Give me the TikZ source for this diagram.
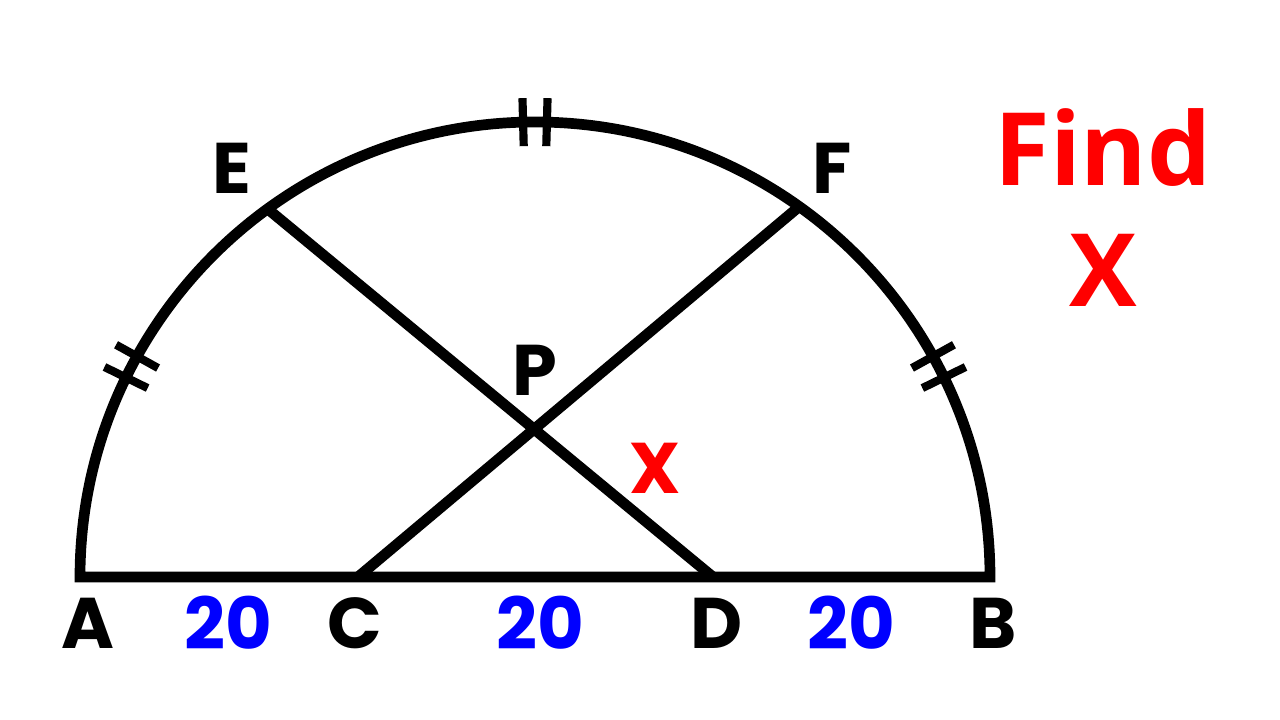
\documentclass[tikz,border=0pt]{standalone}
\usetikzlibrary{calc}
\usepackage{fontspec}
\newfontfamily\lblfont{Poppins}
\newfontfamily\findfont{Open Sans}

\begin{document}
\begin{tikzpicture}[x=0.025cm,y=0.025cm,line width=7.6pt,
	lbl/.style={font=\lblfont\bfseries\fontsize{51}{51}\selectfont,inner sep=0pt},
	seglbl/.style={lbl,text=blue},
	findlbl/.style={font=\findfont\bfseries\fontsize{72}{72}\selectfont,inner sep=0pt,text=red},
	tickmark/.style={line width=5.8pt}]
	\useasboundingbox (0,0) rectangle (1280,720);
	\coordinate (O) at (535,143);
	\coordinate (A) at (80,143);
	\coordinate (B) at (990,143);
	\coordinate (C) at (358,143);
	\coordinate (D) at (713,143);
	\coordinate (E) at ($(O)+(126:455)$);
	\coordinate (F) at ($(O)+(54.5:455)$);
	\coordinate (P) at (intersection of E--D and F--C);
	\draw [line join=miter] (B) arc[start angle=0,end angle=180,radius=455] -- cycle;
	\draw (E) -- (D);
	\draw (F) -- (C);
	\foreach \a in {152.5,90,27.5}
		\foreach \s in {-1.5,1.5}
			\draw [tickmark,shift={(O)}] (\a+\s:431) -- (\a+\s:479);
	\node (a) at (88,97) [lbl] {A};
	\node (c) at (355,97) [lbl] {C};
	\node (d) at (717,97) [lbl] {D};
	\node (b) at (993,97) [lbl] {B};
	\node (ac) at (228,97) [seglbl] {20};
	\node (cd) at (540,97) [seglbl] {20};
	\node (db) at (851,97) [seglbl] {20};
	\node (e) at (232,552) [lbl] {E};
	\node (f) at (832,552) [lbl] {F};
	\node (p) at (535,350) [lbl] {P};
	\node (x) at (655,252) [lbl,text=red] {X};
	\node (find) at (1103,572) [findlbl] {Find};
	\node (fx) at (1103,450) [findlbl] {X};
\end{tikzpicture}
\end{document}
